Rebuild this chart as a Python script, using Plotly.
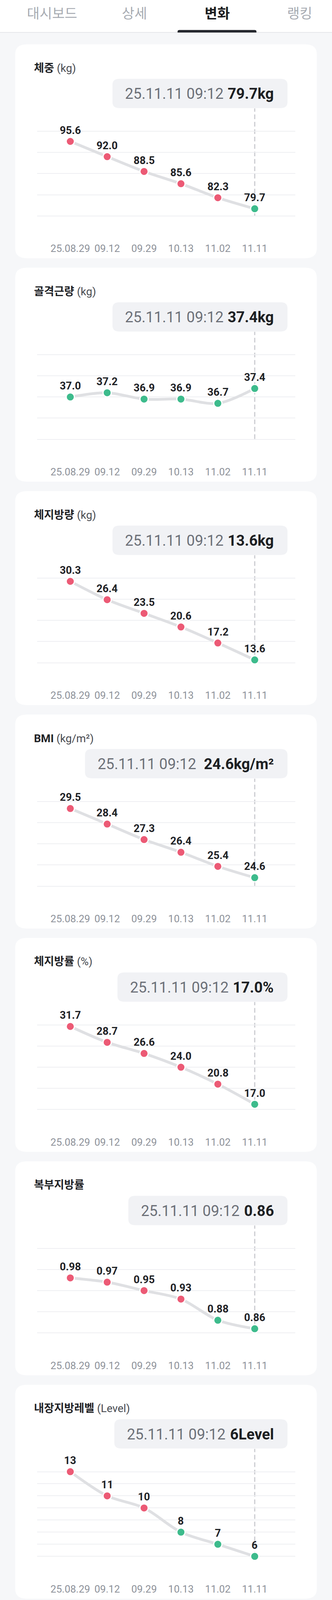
import numpy as np
import plotly.graph_objects as go

# ---- 데이터 ----
dates = ["25.08.29", "09.12", "09.29", "10.13", "11.02", "11.11"]
measured_at = "25.11.11 09:12"
tabs = ["대시보드", "상세", "변화", "랭킹"]
active_tab = "변화"

names = ["체중", "골격근량", "체지방량", "BMI", "체지방률", "복부지방률", "내장지방레벨"]
units = ["kg", "kg", "kg", "kg/m²", "%", "", "Level"]
decimals = [1, 1, 1, 1, 1, 2, 0]

weight = [95.6, 92.0, 88.5, 85.6, 82.3, 79.7]
muscle = [37.0, 37.2, 36.9, 36.9, 36.7, 37.4]
fat_mass = [30.3, 26.4, 23.5, 20.6, 17.2, 13.6]
bmi = [29.5, 28.4, 27.3, 26.4, 25.4, 24.6]
fat_pct = [31.7, 28.7, 26.6, 24.0, 20.8, 17.0]
abdominal = [0.98, 0.97, 0.95, 0.93, 0.88, 0.86]
visceral = [13, 11, 10, 8, 7, 6]

# 1 = 기준 초과(빨강), 0 = 정상(초록)
weight_flag = [1, 1, 1, 1, 1, 0]
muscle_flag = [0, 0, 0, 0, 0, 0]
fat_mass_flag = [1, 1, 1, 1, 1, 0]
bmi_flag = [1, 1, 1, 1, 1, 0]
fat_pct_flag = [1, 1, 1, 1, 1, 0]
abdominal_flag = [1, 1, 1, 1, 0, 0]
visceral_flag = [1, 1, 1, 0, 0, 0]

# y축 범위와 격자선 개수
y_min = [78, 35, 13, 24, 16, 0.85, 6]
y_max = [98, 39, 31, 30, 32, 1.05, 13]
grid_count = [5, 5, 5, 5, 5, 5, 8]

series = [weight, muscle, fat_mass, bmi, fat_pct, abdominal, visceral]
flags = [weight_flag, muscle_flag, fat_mass_flag, bmi_flag, fat_pct_flag,
         abdominal_flag, visceral_flag]

# ---- 화면 배치 (px) ----
W, H = 850, 4913
BG = "#f6f7f9"
RED, GREEN = "#ec5a75", "#3dbb8c"
FONT = "Roboto, 'Noto Sans CJK KR', sans-serif"
CARD_X0, CARD_X1 = 39, 811
CARD_TOP, CARD_PITCH, CARD_H = 136, 686, 657
PLOT_X0, PLOT_X1 = 95, 756
PLOT_T, PLOT_B = 267, 527     # 카드 상단 기준
PAD = 3                       # 가장자리 격자선이 잘리지 않도록 여유(px)
TIP_RIGHT = 736


def fx(p):
    return p / W


def fy(p):
    return 1 - p / H


def rounded_path(x0, y0, x1, y1, r, bottom=True):
    pts = f"M{fx(x0 + r)},{fy(y0)} L{fx(x1 - r)},{fy(y0)} Q{fx(x1)},{fy(y0)} {fx(x1)},{fy(y0 + r)} "
    if bottom:
        pts += (f"L{fx(x1)},{fy(y1 - r)} Q{fx(x1)},{fy(y1)} {fx(x1 - r)},{fy(y1)} "
                f"L{fx(x0 + r)},{fy(y1)} Q{fx(x0)},{fy(y1)} {fx(x0)},{fy(y1 - r)} ")
    else:
        pts += f"L{fx(x1)},{fy(y1)} L{fx(x0)},{fy(y1)} "
    pts += f"L{fx(x0)},{fy(y0 + r)} Q{fx(x0)},{fy(y0)} {fx(x0 + r)},{fy(y0)} Z"
    return pts


# Roboto 글자폭 (em) 대략값
char_w = {".": 0.265, ":": 0.242, " ": 0.248, "k": 0.507, "g": 0.56, "/": 0.412,
          "m": 0.876, "²": 0.37, "%": 0.733, "L": 0.539, "e": 0.528, "v": 0.495, "l": 0.242}


def text_width(s, size):
    return sum(0.562 if c.isdigit() else char_w.get(c, 0.55) for c in s) * size


fig = go.Figure()
shapes = []
annotations = []
layout = {}

# 상단 탭
shapes.append(dict(type="rect", xref="paper", yref="paper", x0=0, x1=1, y0=fy(99), y1=1,
                   fillcolor="white", line_width=0, layer="below"))
shapes.append(dict(type="line", xref="paper", yref="paper", x0=0, x1=1, y0=fy(99.5), y1=fy(99.5),
                   line=dict(color="#e6e7ea", width=2), layer="below"))
for k, t in enumerate(tabs):
    cx = 133 + 211.3 * k
    on = t == active_tab
    annotations.append(dict(x=fx(cx), y=fy(43), xref="paper", yref="paper", text=t,
                            showarrow=False, xanchor="center", yanchor="middle",
                            font=dict(size=35, color="#1b1d21" if on else "#a7abb2",
                                      weight="bold" if on else "normal")))
    if on:
        shapes.append(dict(type="path", xref="paper", yref="paper",
                           path=rounded_path(cx - 101, 92, cx + 101, 100, 5, bottom=False),
                           fillcolor="#24272d", line_width=0))

for i, vals in enumerate(series):
    ax = "" if i == 0 else str(i + 1)
    top = CARD_TOP + CARD_PITCH * i
    n = len(dates)
    lo, hi = y_min[i], y_max[i]
    per_px = (hi - lo) / (PLOT_B - PLOT_T)

    # 카드 배경
    shapes.append(dict(type="path", xref="paper", yref="paper",
                       path=rounded_path(CARD_X0, top, CARD_X1, top + CARD_H, 30),
                       fillcolor="white", line_width=0, layer="below"))

    fig.add_trace(go.Scatter(
        x=list(range(n)), y=vals, mode="lines+markers",
        line=dict(color="#dfe0e3", width=7, shape="spline", smoothing=0.9),
        marker=dict(size=21, color=[RED if f else GREEN for f in flags[i]],
                    line=dict(color="white", width=3)),
        xaxis="x" + ax, yaxis="y" + ax, hoverinfo="skip", cliponaxis=False))

    layout["xaxis" + ax] = dict(
        domain=[fx(PLOT_X0), fx(PLOT_X1)], range=[-0.9, n - 1 + 1.1], anchor="y" + ax,
        tickvals=list(range(n)), ticktext=dates, tickfont=dict(size=26, color="#8d9199"),
        ticks="", ticklabelstandoff=76, showgrid=False, zeroline=False, showline=False,
        fixedrange=True)
    layout["yaxis" + ax] = dict(
        domain=[fy(top + PLOT_B + PAD), fy(top + PLOT_T - PAD)],
        range=[lo - PAD * per_px, hi + PAD * per_px], anchor="x" + ax,
        tickvals=list(np.linspace(lo, hi, grid_count[i])), showticklabels=False,
        showgrid=True, gridcolor="#eeeff2", gridwidth=2, zeroline=False, showline=False,
        fixedrange=True)

    # 값 라벨
    for j, v in enumerate(vals):
        annotations.append(dict(x=j, y=v, xref="x" + ax, yref="y" + ax,
                                text=f"{v:.{decimals[i]}f}", showarrow=False, yshift=34,
                                font=dict(size=27, color="#1f2226", weight="bold")))

    # 제목
    title = f"<b>{names[i]}</b>"
    if units[i]:
        title += f" <span style='color:#474a50'>({units[i]})</span>"
    annotations.append(dict(x=fx(85), y=fy(top + 73), xref="paper", yref="paper", text=title,
                            showarrow=False, xanchor="left", yanchor="middle",
                            font=dict(size=28, color="#1f2226")))

    # 마지막 측정값 툴팁
    last = f"{vals[-1]:.{decimals[i]}f}{units[i]}"
    text_right = TIP_RIGHT - 33
    w_val = text_width(last, 38)
    date_right = text_right - w_val - 14
    tip_left = date_right - text_width(measured_at, 38) - 34
    shapes.append(dict(type="path", xref="paper", yref="paper",
                       path=rounded_path(tip_left, top + 106, TIP_RIGHT, top + 196, 18),
                       fillcolor="#f1f2f5", line_width=0, layer="below"))
    annotations.append(dict(x=fx(text_right), y=fy(top + 152), xref="paper", yref="paper",
                            text=last, showarrow=False, xanchor="right", yanchor="middle",
                            font=dict(size=38, color="#1d1f23", weight="bold")))
    annotations.append(dict(x=fx(date_right), y=fy(top + 152), xref="paper", yref="paper",
                            text=measured_at, showarrow=False, xanchor="right", yanchor="middle",
                            font=dict(size=38, color="#6c7078")))
    shapes.append(dict(type="line", xref="x" + ax, yref="paper", x0=n - 1, x1=n - 1,
                       y0=fy(top + PLOT_B - 1), y1=fy(top + 197),
                       line=dict(color="#cbcdd1", width=3, dash="12px,7px"), layer="below"))

fig.update_layout(
    width=W, height=H, margin=dict(l=0, r=0, t=0, b=0),
    paper_bgcolor=BG, plot_bgcolor="rgba(0,0,0,0)",
    font=dict(family=FONT), showlegend=False, hovermode=False,
    shapes=shapes, annotations=annotations, **layout)

# 창 높이가 그림보다 작게 잡히면 세로를 창에 맞추고, px 단위 간격도 같은 비율로 줄인다
fit_js = """
document.body.style.margin = '0';
document.body.style.overflow = 'hidden';
var gd = document.getElementById('{plot_id}');
var h = window.innerHeight;
if (h > 0 && h < FULL_H) {
  var s = h / FULL_H;
  var upd = {height: h};
  Object.keys(gd.layout).forEach(function (k) {
    if (k.indexOf('xaxis') === 0 && gd.layout[k].ticklabelstandoff) {
      upd[k + '.ticklabelstandoff'] = Math.round(gd.layout[k].ticklabelstandoff * s);
    }
  });
  (gd.layout.annotations || []).forEach(function (a, k) {
    if (a.yshift) { upd['annotations[' + k + '].yshift'] = a.yshift * s; }
  });
  Plotly.relayout(gd, upd);
}
""".replace("FULL_H", str(H))

fig.write_html("out.html", config={"displayModeBar": False}, post_script=fit_js)
